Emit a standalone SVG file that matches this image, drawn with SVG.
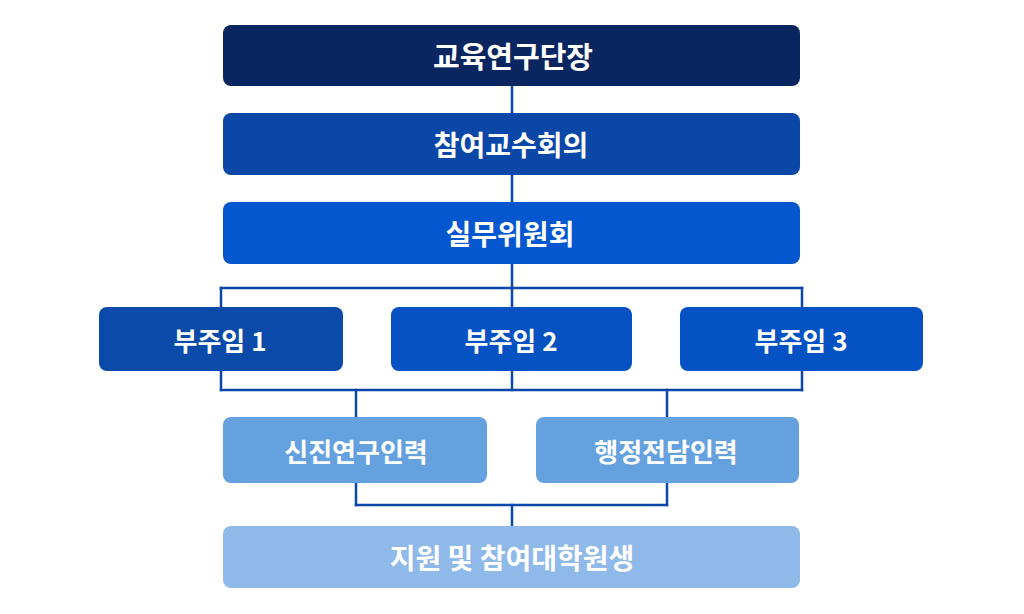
<svg xmlns="http://www.w3.org/2000/svg" width="1024" height="614" viewBox="0 0 1024 614">
  <style>
    .lbl { font-family: "Noto Sans CJK KR", "Noto Sans", sans-serif; font-weight: 700; fill: #ffffff; text-anchor: middle; dominant-baseline: central; }
    .big { font-size: 28px; }
    .mid { font-size: 26px; }
    .conn { fill: none; stroke: #0b47a8; stroke-width: 2.5; stroke-linecap: square; }
  </style>
  <rect width="1024" height="614" fill="#ffffff"/>
  <g id="connectors">
    <path class="conn" d="M512 86 V288"/>
    <path class="conn" d="M221 288 H802"/>
    <path class="conn" d="M221 288 V390"/>
    <path class="conn" d="M512 288 V390"/>
    <path class="conn" d="M802 288 V390"/>
    <path class="conn" d="M221 390 H802"/>
    <path class="conn" d="M356 390 V505"/>
    <path class="conn" d="M667 390 V505"/>
    <path class="conn" d="M356 505 H667"/>
    <path class="conn" d="M512 505 V526"/>
  </g>
  <g id="n-director">
    <rect x="223" y="25" width="577" height="61" rx="8" fill="#0a2660"/>
    <text class="lbl big" x="513" y="55" style="font-size:29px">교육연구단장</text>
  </g>
  <g id="n-faculty">
    <rect x="223" y="113" width="577" height="62" rx="8" fill="#0a47a6"/>
    <text class="lbl big" x="511" y="144">참여교수회의</text>
  </g>
  <g id="n-committee">
    <rect x="223" y="202" width="577" height="62" rx="8" fill="#0557cf"/>
    <text class="lbl big" x="510" y="233">실무위원회</text>
  </g>
  <g id="n-deputy1">
    <rect x="99" y="307" width="244" height="64" rx="8" fill="#0a4aa8"/>
    <text class="lbl mid" x="220" y="339">부주임 1</text>
  </g>
  <g id="n-deputy2">
    <rect x="391" y="307" width="241" height="64" rx="8" fill="#0652c2"/>
    <text class="lbl mid" x="511" y="339">부주임 2</text>
  </g>
  <g id="n-deputy3">
    <rect x="680" y="307" width="243" height="64" rx="8" fill="#0552c4"/>
    <text class="lbl mid" x="801" y="339">부주임 3</text>
  </g>
  <g id="n-newresearch">
    <rect x="223" y="417" width="264" height="66" rx="8" fill="#65a1de"/>
    <text class="lbl mid" x="356" y="450">신진연구인력</text>
  </g>
  <g id="n-admin">
    <rect x="536" y="417" width="263" height="66" rx="8" fill="#65a1de"/>
    <text class="lbl mid" x="666" y="450">행정전담인력</text>
  </g>
  <g id="n-students">
    <rect x="223" y="526" width="577" height="62" rx="8" fill="#8fb9e9"/>
    <text class="lbl big" x="512" y="557">지원 및 참여대학원생</text>
  </g>
</svg>
